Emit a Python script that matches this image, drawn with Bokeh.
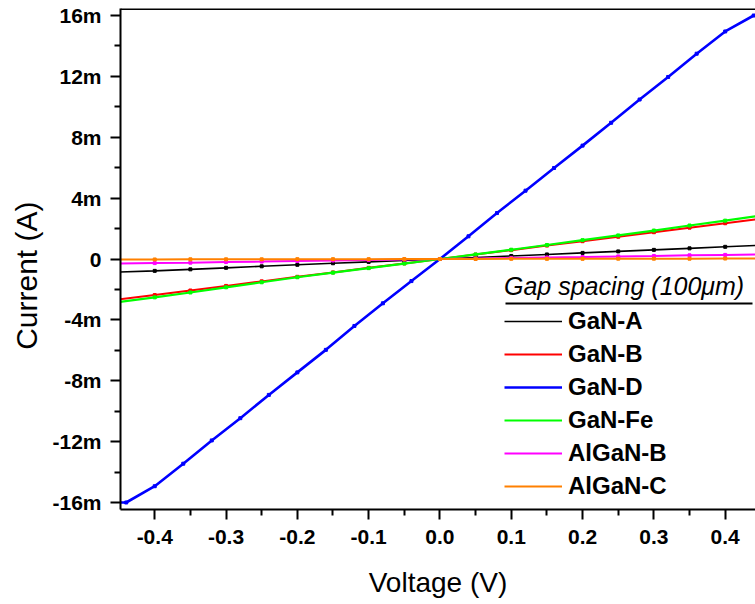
from bokeh.plotting import figure
from bokeh.models import (Range1d, FixedTicker, Span, Legend, LegendItem,
                          ColumnDataSource, BoxAnnotation)
from bokeh.embed import file_html
from bokeh.resources import INLINE

# ---------------- data (current in mA, voltage in V) ----------------
voltage = [-0.45, -0.40, -0.35, -0.30, -0.25, -0.20, -0.15, -0.10, -0.05, 0.0,
           0.05, 0.10, 0.15, 0.20, 0.25, 0.30, 0.35, 0.40, 0.45]
gan_a = [-0.86, -0.78, -0.68, -0.58, -0.48, -0.38, -0.28, -0.19, -0.10, 0.0,
         0.10, 0.20, 0.30, 0.40, 0.50, 0.60, 0.70, 0.80, 0.90]
gan_b = [-2.65, -2.37, -2.07, -1.77, -1.47, -1.17, -0.88, -0.58, -0.29, 0.0,
         0.29, 0.58, 0.88, 1.17, 1.46, 1.76, 2.06, 2.35, 2.65]
gan_fe = [-2.83, -2.52, -2.20, -1.86, -1.53, -1.20, -0.90, -0.60, -0.30, 0.0,
          0.30, 0.61, 0.92, 1.24, 1.55, 1.87, 2.20, 2.52, 2.85]
algan_b = [-0.30, -0.27, -0.24, -0.20, -0.17, -0.13, -0.10, -0.07, -0.03, 0.0,
           0.03, 0.07, 0.10, 0.13, 0.17, 0.20, 0.24, 0.27, 0.30]
algan_c = [-0.03, -0.03, -0.02, -0.02, -0.02, -0.01, -0.01, -0.01, 0.0, 0.0,
           0.0, 0.01, 0.01, 0.01, 0.02, 0.02, 0.02, 0.03, 0.03]

voltage_d = [-0.45, -0.44, -0.40, -0.36, -0.32, -0.28, -0.24, -0.20, -0.16, -0.12,
             -0.08, -0.04, 0.0, 0.04, 0.08, 0.12, 0.16, 0.20, 0.24, 0.28, 0.32,
             0.36, 0.40, 0.44, 0.45]
gan_d = [-16.0, -16.0, -14.93, -13.45, -11.92, -10.46, -8.93, -7.45, -5.97, -4.40,
         -2.91, -1.45, 0.0, 1.49, 3.02, 4.49, 5.98, 7.45, 8.95, 10.48, 11.96,
         13.49, 14.95, 16.0, 16.0]

series_names = ["GaN-A", "GaN-B", "GaN-D", "GaN-Fe", "AlGaN-B", "AlGaN-C"]
series_colors = ["#000000", "#FF0000", "#0000FF", "#00FF00", "#FF00FF", "#FF8000"]

x_ticks = [-0.4, -0.3, -0.2, -0.1, 0.0, 0.1, 0.2, 0.3, 0.4]
x_tick_labels = ["-0.4", "-0.3", "-0.2", "-0.1", "0.0", "0.1", "0.2", "0.3", "0.4"]
x_minor = [-0.45, -0.35, -0.25, -0.15, -0.05, 0.05, 0.15, 0.25, 0.35]
y_ticks = [-16, -12, -8, -4, 0, 4, 8, 12, 16]
y_tick_labels = ["-16m", "-12m", "-8m", "-4m", "0", "4m", "8m", "12m", "16m"]
y_minor = [-14, -10, -6, -2, 2, 6, 10, 14]

legend_title = "Gap spacing (100\u03bcm)"
x_label = "Voltage (V)"
y_label = "Current (A)"

Y_TOP = 16.46
p = figure(width=755, height=600, output_backend="svg", toolbar_location=None,
           x_range=Range1d(-0.448, 0.4425), y_range=Range1d(-Y_TOP, Y_TOP),
           min_border_left=120, min_border_right=0, min_border_top=8,
           min_border_bottom=89)
p.outline_line_color = None
p.xgrid.visible = False
p.ygrid.visible = False
p.background_fill_color = "white"

FONT = "Liberation Sans"

for ax, ticks, labels, minor in ((p.xaxis[0], x_ticks, x_tick_labels, x_minor),
                                 (p.yaxis[0], y_ticks, y_tick_labels, y_minor)):
    ax.ticker = FixedTicker(ticks=ticks, minor_ticks=minor)
    ax.major_label_overrides = {t: l for t, l in zip(ticks, labels)}
    ax.axis_line_width = 2
    ax.major_tick_line_width = 2
    ax.minor_tick_line_width = 2
    ax.major_tick_in = 0
    ax.major_tick_out = 10
    ax.minor_tick_in = 0
    ax.minor_tick_out = 6
    ax.major_label_text_font = FONT
    ax.major_label_text_font_style = "bold"
    ax.major_label_text_font_size = "21px"
    ax.major_label_text_color = "black"
    ax.axis_label_text_font = FONT
    ax.axis_label_text_font_style = "normal"
    ax.axis_label_text_color = "black"

p.xaxis.axis_label = x_label
p.xaxis.axis_label_text_font_size = "28px"
# non-breaking spaces push the centred y title slightly downwards, as in the original
p.yaxis.axis_label = y_label + "\u00a0" * 4
p.yaxis.axis_label_text_font_size = "30px"
p.xaxis.major_label_standoff = 10
p.yaxis.major_label_standoff = 9
p.xaxis.axis_label_standoff = 20
p.yaxis.axis_label_standoff = 6

# top border of the frame
p.add_layout(Span(location=Y_TOP, dimension="width", line_color="black",
                  line_width=3))

sources = [
    ColumnDataSource(dict(v=voltage, i=gan_a)),
    ColumnDataSource(dict(v=voltage, i=gan_b)),
    ColumnDataSource(dict(v=voltage_d, i=gan_d)),
    ColumnDataSource(dict(v=voltage, i=gan_fe)),
    ColumnDataSource(dict(v=voltage, i=algan_b)),
    ColumnDataSource(dict(v=voltage, i=algan_c)),
]
widths = [1.6, 2, 2.6, 2.2, 2, 2]

items = []
for name, color, src, w in zip(series_names, series_colors, sources, widths):
    ln = p.line("v", "i", source=src, line_color=color, line_width=w)
    p.scatter("v", "i", source=src, marker="square", size=3,
              fill_color=color, line_color=color)
    items.append(LegendItem(label=name, renderers=[ln]))

legend = Legend(items=items, location=(384, 9), title=legend_title,
                glyph_width=58, glyph_height=28, label_height=28,
                label_standoff=6, spacing=5, padding=0, margin=0,
                border_line_color=None, background_fill_alpha=0,
                label_text_font=FONT, label_text_font_style="bold",
                label_text_font_size="24px", label_text_color="black",
                title_text_font=FONT, title_text_font_style="italic",
                title_text_font_size="25px", title_text_color="black",
                title_standoff=6)
p.add_layout(legend, "center")

# underline of the legend title (screen units, relative to the frame)
p.add_layout(BoxAnnotation(left=385, right=632, bottom=205, top=207,
                           left_units="screen", right_units="screen",
                           bottom_units="screen", top_units="screen",
                           fill_color="black", fill_alpha=1, line_color=None))

open("out.html", "w").write(file_html(p, INLINE))
